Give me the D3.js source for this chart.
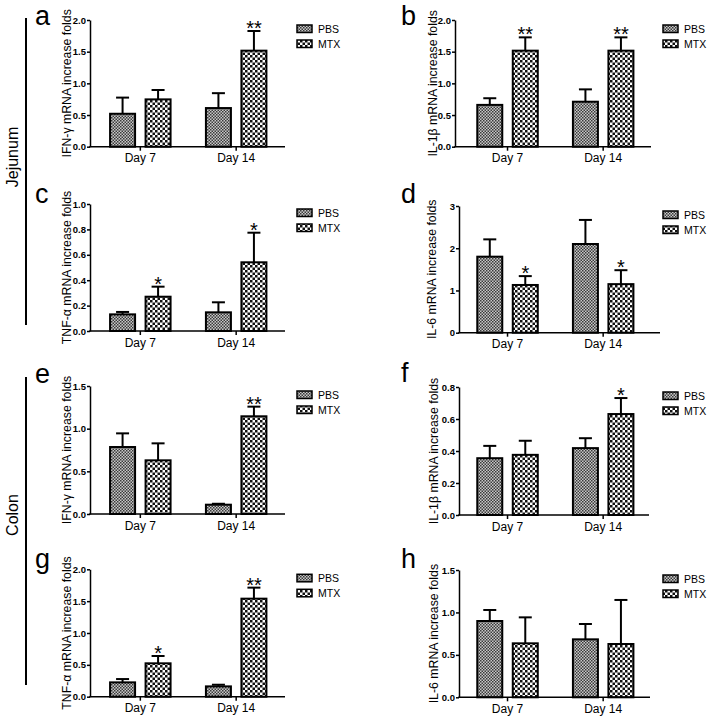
<!DOCTYPE html>
<html>
<head>
<meta charset="utf-8">
<script src="https://cdn.jsdelivr.net/npm/d3@7"></script>
<style>
  html, body { margin: 0; padding: 0; background: #fff; }
  svg { display: block; font-family: 'Liberation Sans', Arial, sans-serif; }
</style>
</head>
<body>
<svg id="chart" width="710" height="720"></svg>
<script>
// ---------------- DATA ----------------
const categories = ["Day 7", "Day 14"];
const groups = ["PBS", "MTX"];
const panelLetters = ["a", "b", "c", "d", "e", "f", "g", "h"];
const yTitles = [
  "IFN-\u03b3 mRNA increase folds",
  "IL-1\u03b2 mRNA increase folds",
  "TNF-\u03b1 mRNA increase folds",
  "IL-6 mRNA increase folds",
  "IFN-\u03b3 mRNA increase folds",
  "IL-1\u03b2 mRNA increase folds",
  "TNF-\u03b1 mRNA increase folds",
  "IL-6 mRNA increase folds"
];
const yMax = [2.0, 2.0, 1.0, 3, 1.5, 0.8, 2.0, 1.5];
const yStep = [0.5, 0.5, 0.2, 1, 0.5, 0.2, 0.5, 0.5];
const yTickFormat = [".1f", ".1f", ".1f", "d", ".1f", ".1f", ".1f", ".1f"];

// means [Day 7, Day 14]
const pbsMean = [[0.52, 0.61], [0.66, 0.71], [0.131, 0.147], [1.80, 2.10], [0.785, 0.109], [0.355, 0.418], [0.225, 0.162], [0.899, 0.683]];
const pbsSem  = [[0.255, 0.235], [0.105, 0.195], [0.019, 0.079], [0.41, 0.57], [0.16, 0.011], [0.077, 0.062], [0.052, 0.026], [0.13, 0.181]];
const mtxMean = [[0.747, 1.516], [1.516, 1.516], [0.270, 0.541], [1.13, 1.15], [0.629, 1.145], [0.376, 0.631], [0.524, 1.539], [0.636, 0.628]];
const mtxSem  = [[0.148, 0.31], [0.21, 0.21], [0.079, 0.233], [0.21, 0.33], [0.199, 0.113], [0.088, 0.10], [0.115, 0.173], [0.306, 0.519]];
const mtxStars = [["", "**"], ["**", "**"], ["*", "*"], ["*", "*"], ["", "**"], ["", "*"], ["*", "**"], ["", ""]];

const sections = ["Jejunum", "Colon"];

// ---------------- LAYOUT ----------------
const L = [
  { x0: 92.4, x1: 284.1, axisX: 90,  axisEnd: 285, yTop: 20,    yBot: 146.7, titleX: 67,  legX: 297, letterX: 35,  letterY: 25 },
  { x0: 459.7, x1: 651,  axisX: 455, axisEnd: 651, yTop: 20,    yBot: 146.7, titleX: 433, legX: 663, letterX: 401, letterY: 25 },
  { x0: 92.4, x1: 284.1, axisX: 90,  axisEnd: 285, yTop: 204,   yBot: 331,   titleX: 67,  legX: 297, letterX: 35,  letterY: 203 },
  { x0: 459.7, x1: 651,  axisX: 459, axisEnd: 660, yTop: 206,   yBot: 332.7, titleX: 432, legX: 663, letterX: 401, letterY: 203 },
  { x0: 92.4, x1: 284.1, axisX: 90,  axisEnd: 285, yTop: 386,   yBot: 514,   titleX: 67,  legX: 297, letterX: 35,  letterY: 383 },
  { x0: 459.7, x1: 651,  axisX: 459, axisEnd: 649, yTop: 387,   yBot: 515,   titleX: 434, legX: 663, letterX: 401, letterY: 382 },
  { x0: 92.4, x1: 284.1, axisX: 90,  axisEnd: 285, yTop: 569.3, yBot: 696.7, titleX: 67,  legX: 297, letterX: 35,  letterY: 568 },
  { x0: 459.7, x1: 651,  axisX: 459, axisEnd: 650, yTop: 570,   yBot: 697.3, titleX: 434, legX: 663, letterX: 401, letterY: 568 }
];
const sectionLayout = [
  { lineX: 26, y1: 18, y2: 325, labelY: 157 },
  { lineX: 26, y1: 377, y2: 685, labelY: 515 }
];
const barW = 25, pairW = 60.5, capW = 13;

// ---------------- DRAW ----------------
const svg = d3.select("#chart");
svg.append("rect").attr("width", 710).attr("height", 720).attr("fill", "#fff");

const defs = svg.append("defs");
// PBS: fine grey checker
const p1 = defs.append("pattern").attr("id", "pat-PBS").attr("patternUnits", "userSpaceOnUse")
  .attr("width", 3).attr("height", 3);
p1.append("rect").attr("width", 3).attr("height", 3).attr("fill", "#c8c8c8");
p1.append("rect").attr("width", 1.5).attr("height", 1.5).attr("fill", "#3a3a3a");
p1.append("rect").attr("x", 1.5).attr("y", 1.5).attr("width", 1.5).attr("height", 1.5).attr("fill", "#3a3a3a");
// MTX: coarser black/white checker
const p2 = defs.append("pattern").attr("id", "pat-MTX").attr("patternUnits", "userSpaceOnUse")
  .attr("width", 5).attr("height", 5);
p2.append("rect").attr("width", 5).attr("height", 5).attr("fill", "#ffffff");
p2.append("rect").attr("width", 2.5).attr("height", 2.5).attr("fill", "#111");
p2.append("rect").attr("x", 2.5).attr("y", 2.5).attr("width", 2.5).attr("height", 2.5).attr("fill", "#111");

panelLetters.forEach((letter, i) => {
  const lay = L[i];
  const g = svg.append("g");
  const y = d3.scaleLinear().domain([0, yMax[i]]).range([lay.yBot, lay.yTop]);
  const W = lay.x1 - lay.x0;
  const pin = 1 - pairW / (W / 2);
  const x0 = d3.scaleBand().domain(categories).range([lay.x0, lay.x1])
    .paddingInner(pin).paddingOuter(pin / 2);
  const x1 = d3.scaleBand().domain(groups).range([0, x0.bandwidth()])
    .paddingInner((pairW - 2 * barW) / (pairW - barW)).paddingOuter(0);

  const rows = [];
  categories.forEach((c, ci) => {
    rows.push({ cat: c, grp: "PBS", v: pbsMean[i][ci], e: pbsSem[i][ci], star: "" });
    rows.push({ cat: c, grp: "MTX", v: mtxMean[i][ci], e: mtxSem[i][ci], star: mtxStars[i][ci] });
  });

  // error bars
  rows.forEach(r => {
    const cx = x0(r.cat) + x1(r.grp) + x1.bandwidth() / 2;
    const yt = y(r.v + r.e);
    g.append("line").attr("x1", cx).attr("x2", cx).attr("y1", y(r.v)).attr("y2", yt)
      .attr("stroke", "#000").attr("stroke-width", 2);
    g.append("line").attr("x1", cx - capW / 2).attr("x2", cx + capW / 2).attr("y1", yt).attr("y2", yt)
      .attr("stroke", "#000").attr("stroke-width", 2);
    if (r.star) {
      g.append("text").attr("x", cx).attr("y", yt + 4).attr("text-anchor", "middle")
        .attr("font-size", 20).attr("fill", "#000").text(r.star);
    }
  });

  // bars
  g.selectAll("rect.bar").data(rows).enter().append("rect").attr("class", "bar")
    .attr("x", r => x0(r.cat) + x1(r.grp))
    .attr("y", r => y(r.v))
    .attr("width", x1.bandwidth())
    .attr("height", r => lay.yBot - y(r.v))
    .attr("fill", r => `url(#pat-${r.grp})`)
    .attr("stroke", "#000").attr("stroke-width", 2);

  // y axis
  const ticks = d3.range(0, yMax[i] + yStep[i] / 2, yStep[i]);
  const yAxis = d3.axisLeft(y).tickValues(ticks).tickSize(3).tickSizeOuter(0).tickPadding(1)
    .tickFormat(d3.format(yTickFormat[i]));
  const ga = g.append("g").attr("transform", `translate(${lay.axisX},0)`).call(yAxis);
  ga.select(".domain").attr("stroke-width", 1.5);
  ga.selectAll(".tick line").attr("stroke-width", 1.5);
  ga.selectAll(".tick text").attr("font-size", 9.5).attr("font-weight", "bold")
    .attr("font-family", "'Liberation Sans', Arial, sans-serif").attr("fill", "#000");

  // x axis
  const xAxis = d3.axisBottom(x0).tickSize(4).tickSizeOuter(0).tickPadding(3);
  const gx = g.append("g").attr("transform", `translate(0,${lay.yBot})`).call(xAxis);
  gx.select(".domain").remove();
  gx.selectAll(".tick line").attr("stroke-width", 1.5);
  gx.selectAll(".tick text").attr("font-size", 12)
    .attr("font-family", "'Liberation Sans', Arial, sans-serif").attr("fill", "#000");
  g.append("line").attr("x1", lay.axisX - 0.75).attr("x2", lay.axisEnd).attr("y1", lay.yBot).attr("y2", lay.yBot)
    .attr("stroke", "#000").attr("stroke-width", 1.5);

  // y title
  const midY = (lay.yTop + lay.yBot) / 2;
  g.append("text").attr("transform", `translate(${lay.titleX},${midY}) rotate(-90)`)
    .attr("text-anchor", "middle").attr("dy", "0.35em").attr("font-size", 12.3).attr("fill", "#000")
    .text(yTitles[i]);

  // legend
  groups.forEach((grp, j) => {
    g.append("rect").attr("x", lay.legX).attr("y", lay.yTop + 5 + 15 * j).attr("width", 15).attr("height", 7.5)
      .attr("fill", `url(#pat-${grp})`).attr("stroke", "#000").attr("stroke-width", 1.5);
    g.append("text").attr("x", lay.legX + 21).attr("y", lay.yTop + 12.5 + 15 * j)
      .attr("font-size", 10.5).attr("fill", "#000").text(grp);
  });

  // panel letter
  g.append("text").attr("x", lay.letterX).attr("y", lay.letterY).attr("font-size", 27).attr("fill", "#000")
    .text(letter);
});

// section labels
sections.forEach((s, k) => {
  const sl = sectionLayout[k];
  svg.append("line").attr("x1", sl.lineX).attr("x2", sl.lineX).attr("y1", sl.y1).attr("y2", sl.y2)
    .attr("stroke", "#000").attr("stroke-width", 2);
  svg.append("text").attr("transform", `translate(12,${sl.labelY}) rotate(-90)`)
    .attr("text-anchor", "middle").attr("dy", "0.35em").attr("font-size", 16).attr("fill", "#000").text(s);
});
</script>
</body>
</html>
